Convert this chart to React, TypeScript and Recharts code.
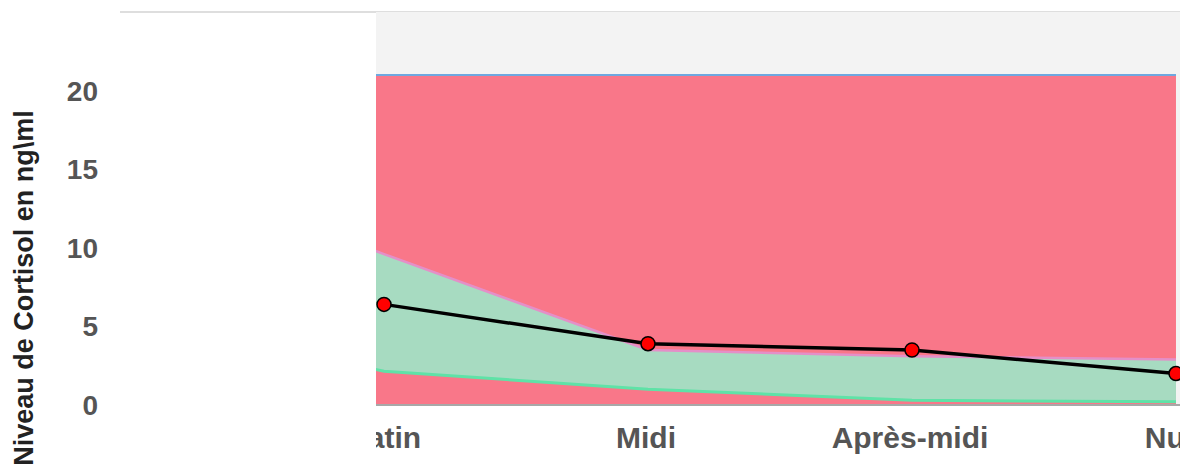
import { ComposedChart, Area, Line, XAxis, YAxis, ReferenceArea } from 'recharts';

// first category sits left of the visible window (scrolled out), only its slope shows
const categories = ['Réveil', 'Matin', 'Midi', 'Après-midi', 'Nuit'];
const cortisol = [null, 6.4, 3.9, 3.5, 2.0];
const normalHigh = [16.0, 9.6, 3.5, 3.1, 2.9];
const normalLow = [5.8, 2.15, 1.0, 0.3, 0.2];
const maxLevel = [21, 21, 21, 21, 21];
const yTicks = [0, 5, 10, 15, 20];
const xTicks = [0, 1, 2, 3];

const data = categories.map((name, i) => ({
  idx: i - 1,
  name,
  cortisol: cortisol[i],
  high: normalHigh[i],
  low: normalLow[i],
  max: maxLevel[i],
}));

const W = 1180;
const H = 468;
const PLOT_LEFT = 376;
const FONT = '"Liberation Sans", Arial, sans-serif';

function XTick(props: any) {
  const { x, y, payload, index } = props;
  const label = categories[payload.value + 1];
  const id = `xtick-clip-${index}`;
  return (
    <g>
      <defs>
        <clipPath id={id}>
          <rect x={PLOT_LEFT} y={0} width={W - PLOT_LEFT} height={H} />
        </clipPath>
      </defs>
      <text
        x={x - 2}
        y={y}
        dy="0.71em"
        textAnchor="middle"
        clipPath={`url(#${id})`}
        fontFamily={FONT}
        fontSize={30}
        fontWeight="bold"
        fill="#555555"
      >
        {label}
      </text>
    </g>
  );
}

function YTitle() {
  return (
    <text
      x={33}
      y={288}
      transform="rotate(-90 33 288)"
      textAnchor="middle"
      fontFamily={FONT}
      fontSize={27}
      fontWeight="bold"
      fill="#222222"
    >
      {'Niveau de Cortisol en ng\\ml'}
    </text>
  );
}

export default function App() {
  return (
    <div style={{ position: 'absolute', left: 0, top: 0, width: W, height: H, overflow: 'hidden', background: '#fff' }}>
      <div style={{ position: 'absolute', left: 120, top: 11, width: W - 120, height: 2, background: '#dedede' }} />
      <ComposedChart width={W} height={H} data={data} margin={{ top: 12, right: 0, bottom: 23, left: 0 }}>
        <XAxis
          type="number"
          dataKey="idx"
          domain={[-0.0303, 3.0152]}
          allowDataOverflow
          ticks={xTicks}
          tick={<XTick />}
          tickLine={false}
          tickSize={0}
          tickMargin={22}
          height={40}
          axisLine={{ stroke: '#a8a8a8', strokeWidth: 2 }}
        />
        <YAxis
          type="number"
          domain={[0, 25]}
          ticks={yTicks}
          width={PLOT_LEFT}
          tickSize={0}
          tickMargin={278}
          axisLine={false}
          tickLine={false}
          tick={{ fontFamily: FONT, fontSize: 28, fontWeight: 'bold', fill: '#555555' }}
          label={{ content: () => <YTitle /> }}
        />
        <ReferenceArea y1={0} y2={25} fill="#f3f3f3" fillOpacity={1} stroke="none" />
        <Area
          type="linear"
          dataKey="max"
          fill="#f97789"
          fillOpacity={1}
          stroke="#6fa8e0"
          strokeWidth={2}
          isAnimationActive={false}
        />
        <Area
          type="linear"
          dataKey={(d: any) => [d.low, d.high]}
          fill="#a7dbc1"
          fillOpacity={1}
          stroke="none"
          isAnimationActive={false}
        />
        <Line type="linear" dataKey="high" stroke="#e48fc8" strokeWidth={2.5} dot={false} isAnimationActive={false} />
        <Line type="linear" dataKey="low" stroke="#5fe2a7" strokeWidth={3} dot={false} isAnimationActive={false} />
        <Line
          type="linear"
          dataKey="cortisol"
          stroke="#000000"
          strokeWidth={3.5}
          dot={{ r: 7, fill: '#ff0000', stroke: '#000000', strokeWidth: 1.5 }}
          isAnimationActive={false}
        />
      </ComposedChart>
    </div>
  );
}
